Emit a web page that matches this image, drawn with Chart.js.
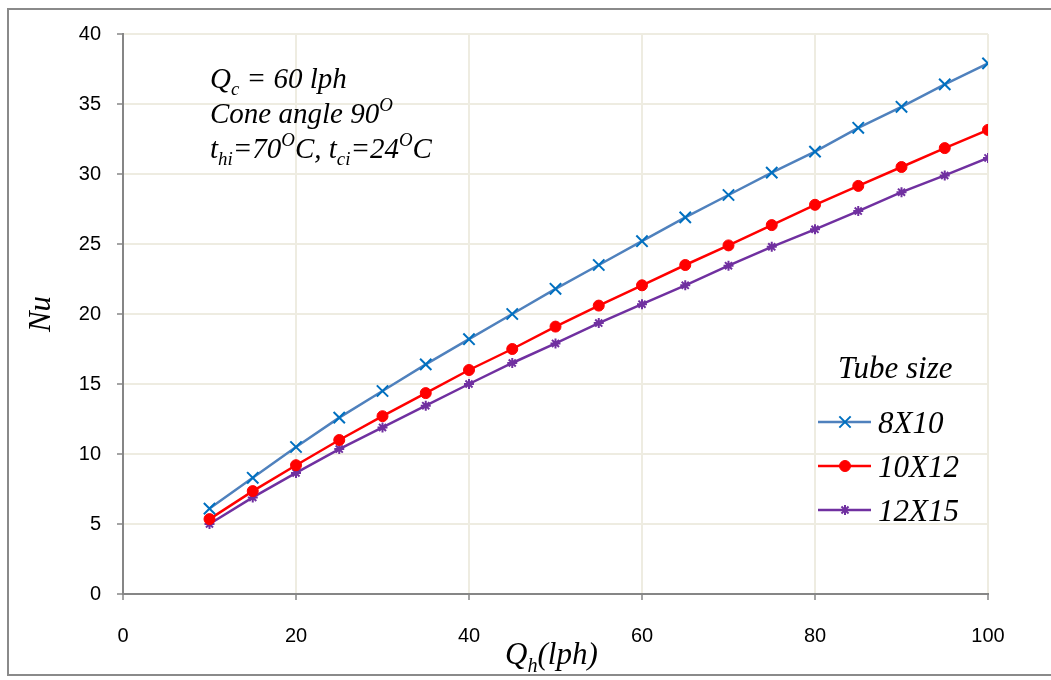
<!DOCTYPE html>
<html>
<head>
<meta charset="utf-8">
<script src="https://cdn.jsdelivr.net/npm/chart.js@4"></script>
<style>
  body { margin: 0; background: #fff; }
  #wrap { position: relative; width: 1051px; height: 680px; }
  #frame { position: absolute; left: 7px; top: 8px; width: 1060px; height: 668px; border: 2px solid #8a8a8a; box-sizing: border-box; pointer-events: none; }
</style>
</head>
<body>
<div id="wrap">
  <canvas id="chart" width="1051" height="680"></canvas>
  <div id="frame"></div>
</div>
<script>
const flowHot = [10, 15, 20, 25, 30, 35, 40, 45, 50, 55, 60, 65, 70, 75, 80, 85, 90, 95, 100]
const nu8x10 = [6.1, 8.3, 10.5, 12.6, 14.5, 16.4, 18.2, 20.0, 21.8, 23.5, 25.2, 26.9, 28.5, 30.1, 31.6, 33.3, 34.8, 36.4, 37.9]
const nu10x12 = [5.35, 7.35, 9.2, 11.0, 12.7, 14.35, 16.0, 17.5, 19.1, 20.6, 22.05, 23.5, 24.9, 26.35, 27.8, 29.15, 30.5, 31.85, 33.15]
const nu12x15 = [5.0, 6.9, 8.65, 10.35, 11.9, 13.45, 15.0, 16.5, 17.9, 19.35, 20.7, 22.05, 23.45, 24.8, 26.05, 27.35, 28.7, 29.9, 31.15]
const seriesNames = ["8X10", "10X12", "12X15"]

const toPoints = (ys) => flowHot.map((x, i) => ({x: x, y: ys[i]}))

const serif = '"Liberation Serif", "Times New Roman", serif'
const tickFont = {family: '"Liberation Sans", Arial, sans-serif', size: 20}

// draw a row of pieces, some of them sub- or superscript
const drawRich = (ctx, x, y, parts, size) => {
    parts.forEach(p => {
        let s = size, dy = 0
        if (p.sub) { s = size * 0.65; dy = size * 0.25 }
        if (p.sup) { s = size * 0.65; dy = -size * 0.4 }
        ctx.font = `italic ${s}px ${serif}`
        ctx.fillText(p.t, x, y + dy)
        x += ctx.measureText(p.t).width
    })
}

const textPlugin = {
    id: 'texts',
    afterDraw: (chart) => {
        const ctx = chart.ctx
        ctx.save()
        ctx.fillStyle = '#000'
        ctx.textBaseline = 'alphabetic'
        ctx.textAlign = 'left'
        const fs = 29
        drawRich(ctx, 210, 88, [{t: 'Q'}, {t: 'c', sub: true}, {t: ' = 60 lph'}], fs)
        drawRich(ctx, 210, 123, [{t: 'Cone angle 90'}, {t: 'O', sup: true}], fs)
        drawRich(ctx, 210, 158, [{t: 't'}, {t: 'hi', sub: true}, {t: '=70'}, {t: 'O', sup: true}, {t: 'C, t'}, {t: 'ci', sub: true}, {t: '=24'}, {t: 'O', sup: true}, {t: 'C'}], fs)

        // x title
        drawRich(ctx, 505, 664, [{t: 'Q'}, {t: 'h', sub: true}, {t: '(lph)'}], 31)

        // y title
        ctx.save()
        ctx.translate(50, 314)
        ctx.rotate(-Math.PI / 2)
        ctx.textAlign = 'center'
        ctx.font = `italic 31px ${serif}`
        ctx.fillText('Nu', 0, 0)
        ctx.restore()

        // legend
        ctx.font = `italic 31px ${serif}`
        ctx.fillText('Tube size', 838, 378)
        const ys = [422, 466, 510]
        chart.data.datasets.forEach((ds, i) => {
            ctx.strokeStyle = ds.borderColor
            ctx.lineWidth = 2.5
            ctx.beginPath()
            ctx.moveTo(818, ys[i])
            ctx.lineTo(871, ys[i])
            ctx.stroke()
            ctx.strokeStyle = ds.pointBorderColor
            ctx.fillStyle = ds.pointBackgroundColor
            ctx.lineWidth = ds.pointBorderWidth
            Chart.helpers.drawPoint(ctx, {pointStyle: ds.pointStyle, radius: ds.pointRadius, borderWidth: ds.pointBorderWidth, rotation: 0}, 845, ys[i])
            ctx.fillStyle = '#000'
            ctx.font = `italic 31px ${serif}`
            ctx.fillText(seriesNames[i], 878, ys[i] + 11)
        })
        ctx.restore()
    }
}

const ctx = document.getElementById('chart').getContext('2d')
const chart = new Chart(ctx, {
    type: 'scatter',
    data: {
        datasets: [
            {
                label: seriesNames[0], data: toPoints(nu8x10), showLine: true,
                borderColor: '#4F81BD', borderWidth: 2.5,
                pointStyle: 'crossRot', pointRadius: 8, pointBorderWidth: 2,
                pointBorderColor: '#0070C0', pointBackgroundColor: '#0070C0'
            },
            {
                label: seriesNames[1], data: toPoints(nu10x12), showLine: true,
                borderColor: '#FF0000', borderWidth: 2.5,
                pointStyle: 'circle', pointRadius: 5.5, pointBorderWidth: 1,
                pointBorderColor: '#FF0000', pointBackgroundColor: '#FF0000'
            },
            {
                label: seriesNames[2], data: toPoints(nu12x15), showLine: true,
                borderColor: '#7030A0', borderWidth: 2.5,
                pointStyle: 'star', pointRadius: 5, pointBorderWidth: 2,
                pointBorderColor: '#7030A0', pointBackgroundColor: '#7030A0'
            }
        ]
    },
    options: {
        responsive: false,
        animation: false,
        layout: {padding: {left: 0, top: 34, right: 63, bottom: 0}},
        plugins: {legend: {display: false}, tooltip: {enabled: false}},
        scales: {
            x: {
                type: 'linear', min: 0, max: 100,
                ticks: {stepSize: 20, color: '#000', font: tickFont, padding: 24},
                grid: {color: '#EEECE1', lineWidth: 2, tickLength: 6, tickColor: '#868686', tickWidth: 1.5},
                border: {color: '#868686', width: 2},
                afterFit: (s) => { s.height = 86 }
            },
            y: {
                min: 0, max: 40,
                ticks: {stepSize: 5, color: '#000', font: tickFont, padding: 16},
                grid: {color: '#EEECE1', lineWidth: 2, tickLength: 6, tickColor: '#868686', tickWidth: 1.5},
                border: {color: '#868686', width: 2},
                afterFit: (s) => { s.width = 123 }
            }
        }
    },
    plugins: [textPlugin]
})
</script>
</body>
</html>
